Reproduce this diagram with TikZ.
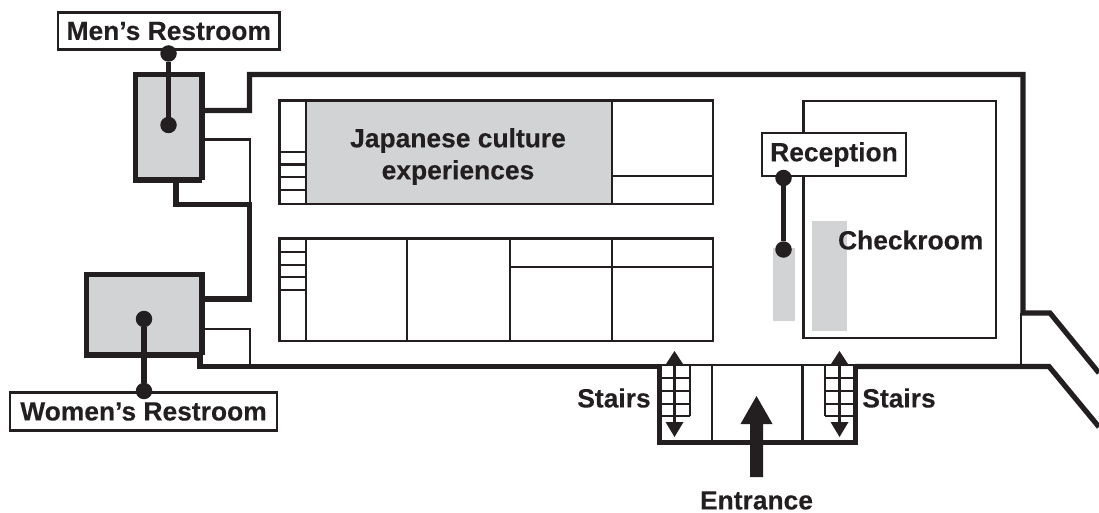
\documentclass[tikz,border=0pt]{standalone}
\usepackage{fontspec}
\setmainfont{Liberation Sans}[BoldFeatures={FakeBold=0.2}]
\definecolor{ink}{HTML}{231F20}
\definecolor{fillgray}{HTML}{D1D3D4}
\tikzset{
  x=1pt,y=-1pt,
  thickwall/.style={draw=ink,line width=5.2pt,line join=miter},
  thinwall/.style={draw=ink,line width=2.8pt},
  room/.style={draw=ink,line width=2.4pt},
  tag/.style={draw=ink,line width=2.4pt,fill=white,inner sep=0pt,font=\fontsize{26.4}{30}\selectfont\bfseries,text=ink},
  plain/.style={inner sep=0pt,font=\fontsize{26.4}{32}\selectfont\bfseries,text=ink,align=center},
  dot/.style={circle,fill=ink,minimum size=16.5pt,inner sep=0pt},
  callout/.style={draw=ink,line width=5.4pt},
  stairarrow/.style={draw=ink,line width=3.6pt},
  head/.style={fill=ink,draw=none},
}
\begin{document}
\begin{tikzpicture}
\useasboundingbox (0,0) rectangle (1099,513);
% grey areas
\fill[fillgray] (306,101) rectangle (612,204);
\fill[fillgray] (773,248) rectangle (795,321);
\fill[fillgray] (812,221) rectangle (847,331);
% room blocks
\draw[room] (279.5,100.5) rectangle (713,204);
\draw[room] (306,100.5) -- (306,204);
\draw[room] (612,100.5) -- (612,204);
\draw[room] (612,176) -- (713,176);
\foreach \yy in {152,164.7,177.3,190} \draw[room] (279.5,\yy) -- (306,\yy);
\draw[room] (279.5,238.5) rectangle (713,341);
\draw[room] (306,238.5) -- (306,341);
\foreach \xx in {407,510,612} \draw[room] (\xx,238.5) -- (\xx,341);
\draw[room] (510,267) -- (713,267);
\foreach \yy in {252,265,277,290} \draw[room] (279.5,\yy) -- (306,\yy);
\draw[room] (803.5,101) rectangle (996,338);
% restrooms
\fill[fillgray] (135.5,74.5) rectangle (202,180);
\fill[fillgray] (86.5,274.5) rectangle (202,355);
\draw[thickwall] (202,180) -- (135.5,180) -- (135.5,74.5) -- (202,74.5) -- (202,180);
\draw[thickwall] (202,355) -- (86.5,355) -- (86.5,274.5) -- (202,274.5) -- (202,355);
% walls
\draw[thickwall] (202,110.5) -- (249.5,110.5) -- (249.5,74.5) -- (1023,74.5) -- (1023,313) -- (1050,313) -- (1099,373);
\draw[thickwall] (176,180) -- (176,204.5) -- (249.5,204.5) -- (249.5,299) -- (202,299);
\draw[thickwall] (200,355) -- (200,366.5) -- (659.5,366.5);
\draw[thickwall] (855.5,366.5) -- (1049,366.5) -- (1099,427);
\draw[thinwall] (204,139.5) -- (250,139.5) -- (250,204);
\draw[thinwall] (204,329) -- (250,329) -- (250,366);
\draw[thinwall] (1021,313) -- (1021,366);
% entrance hall
\draw[thickwall] (659.5,364) -- (659.5,442.5) -- (855.5,442.5) -- (855.5,364);
\draw[thinwall] (659.5,365) -- (855.5,365);
\draw[thinwall] (712,365) -- (712,442);
\draw[thinwall] (802.5,365) -- (802.5,442);
% stairs
\draw[thinwall] (690,365) -- (690,416);
\draw[thinwall] (825,365) -- (825,416);
\foreach \yy in {378,391,404,416} {
  \draw[thinwall] (660,\yy) -- (690,\yy);
  \draw[thinwall] (825,\yy) -- (855,\yy);
}
\foreach \xx in {674.5,839.5} {
  \draw[stairarrow] (\xx,360) -- (\xx,425);
  \fill[head] (\xx,351) -- (\xx+8.5,364) -- (\xx-8.5,364) -- cycle;
  \fill[head] (\xx,437) -- (\xx+9,422) -- (\xx-9,422) -- cycle;
}
% entrance arrow
\fill[head] (756.5,396) -- (772.5,424) -- (763,424) -- (763,477) -- (750,477) -- (750,424) -- (740.5,424) -- cycle;
% labels
\node[tag,minimum width=221.5pt,minimum height=37pt] (men) at (168.75,31) {Men’s Restroom};
\node[tag,minimum width=267pt,minimum height=38pt] (women) at (143.5,411.5) {Women’s Restroom};
\node[tag,minimum width=144pt,minimum height=43pt] (reception) at (834,154.5) {Reception};
\node[plain] (culture) at (458,156.5) {Japanese culture\\experiences};
\node[plain] (checkroom) at (910.7,240) {Checkroom};
\node[plain] (stairsL) at (614,398) {Stairs};
\node[plain] (stairsR) at (899,398) {Stairs};
\node[plain] (entrance) at (756.5,500.5) {Entrance};
% callouts
\node[dot] (menA) at (168.5,53.5) {};
\node[dot] (menB) at (168.5,125) {};
\draw[callout] (menA) -- (menB);
\node[dot] (womenA) at (144,319) {};
\node[dot] (womenB) at (144,391) {};
\draw[callout] (womenA) -- (womenB);
\node[dot] (recA) at (783.5,178) {};
\node[dot] (recB) at (783.5,249.5) {};
\draw[callout] (recA) -- (recB);
\end{tikzpicture}
\end{document}
